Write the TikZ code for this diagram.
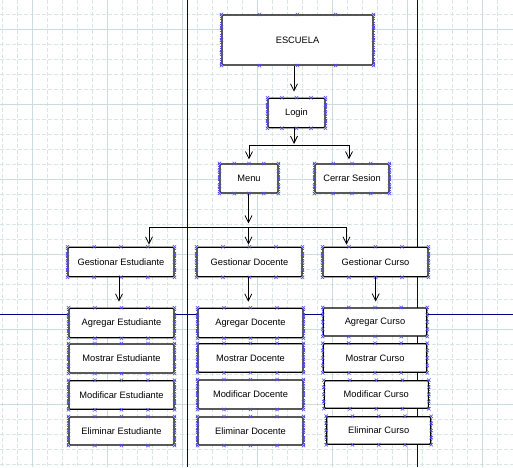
\documentclass[tikz,border=0pt]{standalone}
\usepackage{fontspec}
\setmainfont{Liberation Sans}
\usetikzlibrary{arrows.meta,calc}
\definecolor{gridc}{HTML}{D8E6E6}
\definecolor{gridd}{HTML}{CADCDC}
\definecolor{navy}{HTML}{000080}
\definecolor{handc}{HTML}{5050E8}
\tikzset{
 box/.style={draw=black, line width=1.1pt, fill=white, rounded corners=1.2pt, inner sep=0pt, font=\fontsize{9.3}{11}\selectfont},
 conn/.style={draw=black, line width=0.8pt, -{Straight Barb[length=7pt,width=7pt,line width=0.8pt]}},
 handle/.style={draw=handc, line width=0.6pt},
 hline/.style={draw=handc, line width=0.9pt, dash pattern=on 1.2pt off 1.2pt},
 hx/.pic={\draw[handle] (-1.7,-1.7)--(1.7,1.7) (-1.7,1.7)--(1.7,-1.7);},
 gridthin/.style={draw=gridc, line width=0.9pt, dash pattern=on 3.5pt off 2.5pt},
 gridthick/.style={draw=gridd, line width=0.9pt},
 sep/.style={draw=navy, line width=0.9pt},
}
\newcommand\selhandles[1]{%
 \draw[hline] ([xshift=-0.6pt]#1.north west) -- ([xshift=-0.6pt]#1.south west);
 \draw[hline] ([xshift=0.6pt]#1.north east) -- ([xshift=0.6pt]#1.south east);
 \foreach \f in {0,0.25,0.5,0.75,1}{%
  \path ($(#1.north west)!\f!(#1.north east)$) pic{hx};
  \path ($(#1.south west)!\f!(#1.south east)$) pic{hx};
 }%
 \foreach \f in {0.25,0.5,0.75}{%
  \path ($(#1.north west)!\f!(#1.south west)$) pic{hx};
  \path ($(#1.north east)!\f!(#1.south east)$) pic{hx};
 }%
}
\begin{document}
\begin{tikzpicture}[x=1pt,y=-1pt]
\useasboundingbox (0,0) rectangle (513,467);
\fill[white] (0,0) rectangle (513,467);
% grid
\foreach \x in {2.3,17.3,...,512}{\draw[gridthin] (\x,0) -- (\x,467);}
\foreach \y in {14.3,29.3,...,466}{\draw[gridthin] (0,\y) -- (513,\y);}
\foreach \x in {32.3,107.3,...,512}{\draw[gridthick] (\x,0) -- (\x,467);}
\foreach \y in {29.3,104.3,...,466}{\draw[gridthick] (0,\y) -- (513,\y);}
% separators
\draw[sep] (187.3,0) -- (187.3,467);
\draw[sep] (417.6,0) -- (417.6,467);
\draw[sep] (0,314.3) -- (513,314.3);
% nodes
\node[box, minimum width=151pt, minimum height=50pt] (esc) at (297.5,40) {ESCUELA};
\node[box, minimum width=57pt, minimum height=29.5pt] (login) at (296.5,113) {Login};
\node[box, minimum width=58pt, minimum height=29pt] (menu) at (249,178.5) {Menu};
\node[box, minimum width=74pt, minimum height=29pt] (cerrar) at (352,178.5) {Cerrar Sesion};
\node[box, minimum width=106pt, minimum height=29.5pt] (ge) at (121,262) {Gestionar Estudiante};
\node[box, minimum width=105pt, minimum height=29.5pt] (gd) at (249.5,262) {Gestionar Docente};
\node[box, minimum width=105pt, minimum height=29.5pt] (gc) at (375.5,262) {Gestionar Curso};
\node[box, minimum width=105pt, minimum height=29.5pt] (ae) at (121.5,323) {Agregar Estudiante};
\node[box, minimum width=105pt, minimum height=29pt] (me) at (121.5,358.5) {Mostrar Estudiante};
\node[box, minimum width=105pt, minimum height=28.5pt] (mfe) at (121.5,395) {Modificar Estudiante};
\node[box, minimum width=105pt, minimum height=28pt] (ele) at (121.5,431) {Eliminar Estudiante};
\node[box, minimum width=105pt, minimum height=29.5pt] (ad) at (250.5,323) {Agregar Docente};
\node[box, minimum width=105pt, minimum height=28.5pt] (md) at (250.5,358) {Mostrar Docente};
\node[box, minimum width=105pt, minimum height=29pt] (mfd) at (250.5,394.5) {Modificar Docente};
\node[box, minimum width=105pt, minimum height=28pt] (eld) at (250.5,431) {Eliminar Docente};
\node[box, minimum width=103.5pt, minimum height=28pt] (ac) at (375,322) {Agregar Curso};
\node[box, minimum width=103.5pt, minimum height=28.5pt] (mc) at (375,358) {Mostrar Curso};
\node[box, minimum width=104pt, minimum height=27.5pt] (mfc) at (376.3,394.5) {Modificar Curso};
\node[box, minimum width=104pt, minimum height=27.5pt] (elc) at (378.7,430.5) {Eliminar Curso};
% handles
\foreach \n in {esc,login,menu,cerrar,ge,gd,gc,ae,me,mfe,ele,ad,md,mfd,eld,ac,mc,mfc,elc}{\selhandles{\n}}
% connectors
\coordinate (b1) at (294,145);
\coordinate (b2) at (248.5,227.3);
\draw[conn, shorten >=6pt] ([xshift=-3.5pt]esc.south) -- ([xshift=-2.5pt]login.north);
\draw[conn, shorten >=1pt] (login.south -| b1) -- (b1);
\draw[conn, shorten >=4pt] (b1) -| (menu.north);
\draw[conn, shorten >=4pt] (b1) -| ([xshift=-3pt]cerrar.north);
\draw[conn, shorten >=4pt] (menu.south -| b2) -- (b2);
\draw[conn, shorten >=2pt] (b2) -| ([xshift=28pt]ge.north);
\draw[conn, shorten >=2pt] (b2) -| (b2 |- gd.north);
\draw[conn, shorten >=2pt] (b2) -| ([xshift=-29pt]gc.north);
\draw[conn, shorten >=6pt] ([xshift=-2pt]ge.south) -- ([xshift=-2.5pt]ae.north);
\draw[conn, shorten >=6pt] ([xshift=-1.2pt]gd.south) -- ([xshift=-2.2pt]ad.north);
\draw[conn, shorten >=6pt] ([xshift=0.2pt]gc.south) -- ([xshift=0.7pt]ac.north);
\end{tikzpicture}
\end{document}
